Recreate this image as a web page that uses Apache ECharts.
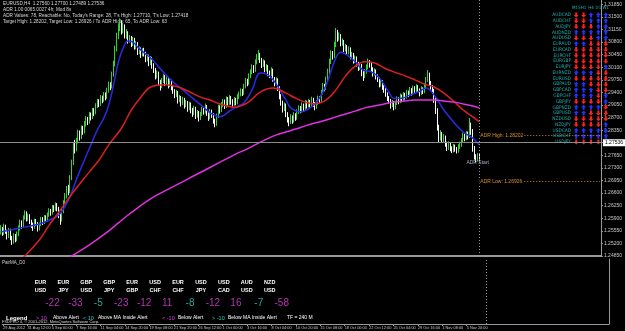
<!DOCTYPE html>
<html>
<head>
<meta charset="utf-8">
<title>EURUSD,H4</title>
<script src="https://cdn.jsdelivr.net/npm/echarts@6/dist/echarts.min.js"></script>
<style>
  html, body { margin: 0; padding: 0; background: #000; }
  #chart { width: 625px; height: 331px; }
</style>
</head>
<body>
<div id="chart"></div>
<script>
// H4 bars, [open, close, low, high]
const bars = [
  [1.2552,1.2560,1.2545,1.2571],[1.2560,1.2548,1.2541,1.2566],[1.2548,1.2566,1.2544,1.2575],[1.2566,1.2552,1.2547,1.2572],[1.2552,1.2540,1.2531,1.2558],[1.2540,1.2557,1.2535,1.2563],
  [1.2557,1.2536,1.2529,1.2561],[1.2536,1.2524,1.2516,1.2541],[1.2524,1.2541,1.2519,1.2548],[1.2541,1.2530,1.2523,1.2546],[1.2530,1.2546,1.2526,1.2553],[1.2546,1.2562,1.2540,1.2570],
  [1.2562,1.2578,1.2556,1.2586],[1.2578,1.2569,1.2561,1.2584],[1.2569,1.2592,1.2565,1.2598],[1.2592,1.2604,1.2586,1.2612],[1.2604,1.2588,1.2581,1.2609],[1.2588,1.2597,1.2583,1.2603],
  [1.2597,1.2580,1.2574,1.2601],[1.2580,1.2571,1.2563,1.2586],[1.2571,1.2566,1.2555,1.2578],[1.2566,1.2583,1.2561,1.2589],[1.2583,1.2575,1.2568,1.2588],[1.2575,1.2561,1.2553,1.2579],
  [1.2561,1.2572,1.2556,1.2578],[1.2572,1.2589,1.2568,1.2594],[1.2589,1.2578,1.2571,1.2593],[1.2578,1.2594,1.2574,1.2599],[1.2594,1.2585,1.2579,1.2598],[1.2585,1.2600,1.2581,1.2606],
  [1.2600,1.2611,1.2594,1.2618],[1.2611,1.2604,1.2597,1.2616],[1.2604,1.2620,1.2600,1.2627],[1.2620,1.2615,1.2607,1.2626],[1.2615,1.2628,1.2611,1.2634],[1.2628,1.2618,1.2609,1.2632],
  [1.2618,1.2598,1.2590,1.2622],[1.2598,1.2586,1.2572,1.2603],[1.2586,1.2610,1.2581,1.2616],[1.2610,1.2634,1.2604,1.2640],[1.2634,1.2652,1.2628,1.2660],[1.2652,1.2671,1.2645,1.2680],
  [1.2671,1.2665,1.2654,1.2683],[1.2665,1.2702,1.2660,1.2710],[1.2702,1.2745,1.2696,1.2753],[1.2745,1.2790,1.2738,1.2802],[1.2790,1.2782,1.2770,1.2808],[1.2782,1.2805,1.2776,1.2814],
  [1.2805,1.2828,1.2798,1.2836],[1.2828,1.2815,1.2806,1.2834],[1.2815,1.2840,1.2810,1.2848],[1.2840,1.2832,1.2822,1.2847],[1.2832,1.2851,1.2826,1.2860],[1.2851,1.2866,1.2845,1.2874],
  [1.2866,1.2858,1.2849,1.2872],[1.2858,1.2879,1.2853,1.2886],[1.2879,1.2871,1.2862,1.2884],[1.2871,1.2890,1.2866,1.2897],[1.2890,1.2884,1.2874,1.2896],[1.2884,1.2902,1.2879,1.2910],
  [1.2902,1.2915,1.2896,1.2922],[1.2915,1.2908,1.2899,1.2921],[1.2908,1.2926,1.2903,1.2933],[1.2926,1.2919,1.2910,1.2931],[1.2919,1.2934,1.2914,1.2941],[1.2934,1.2928,1.2918,1.2940],
  [1.2928,1.2945,1.2922,1.2953],[1.2945,1.2962,1.2939,1.2970],[1.2962,1.2956,1.2946,1.2968],[1.2956,1.2990,1.2951,1.2998],[1.2990,1.3018,1.2984,1.3028],[1.3018,1.3060,1.3012,1.3070],
  [1.3060,1.3095,1.3054,1.3106],[1.3095,1.3118,1.3088,1.3130],[1.3118,1.3132,1.3110,1.3146],[1.3132,1.3110,1.3101,1.3140],[1.3110,1.3124,1.3104,1.3133],[1.3124,1.3098,1.3090,1.3129],
  [1.3098,1.3105,1.3089,1.3116],[1.3105,1.3084,1.3076,1.3110],[1.3084,1.3092,1.3078,1.3100],[1.3092,1.3074,1.3066,1.3097],[1.3074,1.3088,1.3069,1.3094],[1.3088,1.3066,1.3059,1.3092],
  [1.3066,1.3075,1.3060,1.3083],[1.3075,1.3052,1.3044,1.3080],[1.3052,1.3060,1.3046,1.3068],[1.3060,1.3044,1.3036,1.3065],[1.3044,1.3057,1.3040,1.3063],[1.3057,1.3048,1.3040,1.3064],
  [1.3048,1.3031,1.3024,1.3053],[1.3031,1.3040,1.3026,1.3047],[1.3040,1.3022,1.3013,1.3045],[1.3022,1.3035,1.3016,1.3041],[1.3035,1.3016,1.3006,1.3039],[1.3016,1.3002,1.2994,1.3021],
  [1.3002,1.2985,1.2976,1.3008],[1.2985,1.2994,1.2979,1.3001],[1.2994,1.2970,1.2961,1.2998],[1.2970,1.2958,1.2945,1.2975],[1.2958,1.2972,1.2952,1.2980],[1.2972,1.2984,1.2966,1.2992],
  [1.2984,1.2966,1.2958,1.2988],[1.2966,1.2978,1.2961,1.2985],[1.2978,1.2960,1.2951,1.2982],[1.2960,1.2971,1.2955,1.2978],[1.2971,1.2955,1.2946,1.2975],[1.2955,1.2944,1.2936,1.2960],
  [1.2944,1.2932,1.2924,1.2949],[1.2932,1.2940,1.2927,1.2947],[1.2940,1.2918,1.2909,1.2944],[1.2918,1.2926,1.2913,1.2933],[1.2926,1.2910,1.2901,1.2930],[1.2910,1.2921,1.2905,1.2928],
  [1.2921,1.2904,1.2895,1.2925],[1.2904,1.2912,1.2899,1.2919],[1.2912,1.2895,1.2886,1.2916],[1.2895,1.2908,1.2890,1.2914],[1.2908,1.2891,1.2882,1.2912],[1.2891,1.2882,1.2872,1.2897],
  [1.2882,1.2896,1.2877,1.2903],[1.2896,1.2875,1.2866,1.2900],[1.2875,1.2884,1.2870,1.2891],[1.2884,1.2868,1.2859,1.2888],[1.2868,1.2879,1.2863,1.2886],[1.2879,1.2892,1.2874,1.2900],
  [1.2892,1.2886,1.2878,1.2898],[1.2886,1.2901,1.2881,1.2909],[1.2901,1.2883,1.2875,1.2905],[1.2883,1.2870,1.2861,1.2887],[1.2870,1.2887,1.2865,1.2894],[1.2887,1.2878,1.2869,1.2892],
  [1.2878,1.2862,1.2853,1.2882],[1.2862,1.2851,1.2843,1.2867],[1.2851,1.2874,1.2847,1.2881],[1.2874,1.2898,1.2869,1.2906],[1.2898,1.2890,1.2881,1.2904],[1.2890,1.2906,1.2885,1.2913],
  [1.2906,1.2915,1.2899,1.2922],[1.2915,1.2902,1.2894,1.2920],[1.2902,1.2922,1.2897,1.2929],[1.2922,1.2910,1.2902,1.2927],[1.2910,1.2925,1.2905,1.2933],[1.2925,1.2914,1.2906,1.2930],
  [1.2914,1.2908,1.2899,1.2921],[1.2908,1.2920,1.2903,1.2927],[1.2920,1.2912,1.2904,1.2925],[1.2912,1.2928,1.2907,1.2935],[1.2928,1.2935,1.2921,1.2942],[1.2935,1.2944,1.2929,1.2951],
  [1.2944,1.2938,1.2930,1.2950],[1.2938,1.2957,1.2933,1.2964],[1.2957,1.2972,1.2951,1.2980],[1.2972,1.2966,1.2957,1.2978],[1.2966,1.2985,1.2961,1.2993],[1.2985,1.2996,1.2979,1.3004],
  [1.2996,1.3010,1.2990,1.3018],[1.3010,1.3002,1.2994,1.3016],[1.3002,1.3024,1.2997,1.3032],[1.3024,1.3038,1.3018,1.3047],[1.3038,1.3045,1.3030,1.3058],[1.3045,1.3030,1.3022,1.3050],
  [1.3030,1.3016,1.3008,1.3036],[1.3016,1.3025,1.3011,1.3032],[1.3025,1.3004,1.2996,1.3029],[1.3004,1.3012,1.2998,1.3019],[1.3012,1.2994,1.2985,1.3016],[1.2994,1.2990,1.2980,1.3001],
  [1.2990,1.3002,1.2985,1.3010],[1.3002,1.2978,1.2970,1.3006],[1.2978,1.2966,1.2957,1.2983],[1.2966,1.2975,1.2960,1.2982],[1.2975,1.2952,1.2944,1.2979],[1.2952,1.2930,1.2921,1.2957],
  [1.2930,1.2912,1.2903,1.2935],[1.2912,1.2894,1.2884,1.2917],[1.2894,1.2905,1.2888,1.2912],[1.2905,1.2880,1.2871,1.2909],[1.2880,1.2866,1.2856,1.2885],[1.2866,1.2858,1.2846,1.2871],
  [1.2858,1.2872,1.2852,1.2879],[1.2872,1.2861,1.2853,1.2876],[1.2861,1.2878,1.2856,1.2885],[1.2878,1.2869,1.2861,1.2882],[1.2869,1.2886,1.2864,1.2893],[1.2886,1.2897,1.2880,1.2904],
  [1.2897,1.2890,1.2882,1.2902],[1.2890,1.2905,1.2885,1.2912],[1.2905,1.2896,1.2888,1.2909],[1.2896,1.2912,1.2891,1.2919],[1.2912,1.2903,1.2895,1.2917],[1.2903,1.2915,1.2898,1.2922],
  [1.2915,1.2906,1.2898,1.2919],[1.2906,1.2921,1.2901,1.2928],[1.2921,1.2908,1.2900,1.2925],[1.2908,1.2899,1.2890,1.2913],[1.2899,1.2911,1.2894,1.2918],[1.2911,1.2924,1.2905,1.2931],
  [1.2924,1.2918,1.2910,1.2930],[1.2918,1.2940,1.2913,1.2947],[1.2940,1.2958,1.2934,1.2966],[1.2958,1.2952,1.2943,1.2964],[1.2952,1.2976,1.2947,1.2984],[1.2976,1.2998,1.2970,1.3006],
  [1.2998,1.3025,1.2992,1.3034],[1.3025,1.3048,1.3019,1.3057],[1.3048,1.3040,1.3031,1.3055],[1.3040,1.3072,1.3035,1.3081],[1.3072,1.3105,1.3066,1.3119],[1.3105,1.3090,1.3081,1.3114],
  [1.3090,1.3098,1.3084,1.3107],[1.3098,1.3076,1.3068,1.3102],[1.3076,1.3082,1.3070,1.3090],[1.3082,1.3060,1.3052,1.3086],[1.3060,1.3068,1.3054,1.3075],[1.3068,1.3052,1.3044,1.3072],
  [1.3052,1.3061,1.3046,1.3068],[1.3061,1.3040,1.3032,1.3065],[1.3040,1.3046,1.3034,1.3053],[1.3046,1.3028,1.3020,1.3050],[1.3028,1.3036,1.3022,1.3043],[1.3036,1.3020,1.3012,1.3040],
  [1.3020,1.3008,1.3000,1.3025],[1.3008,1.3015,1.3002,1.3022],[1.3015,1.2994,1.2985,1.3019],[1.2994,1.2986,1.2972,1.2999],[1.2986,1.2998,1.2980,1.3005],[1.2998,1.3010,1.2992,1.3018],
  [1.3010,1.3024,1.3004,1.3034],[1.3024,1.3018,1.3009,1.3030],[1.3018,1.3006,1.2998,1.3022],[1.3006,1.2992,1.2984,1.3010],[1.2992,1.3000,1.2987,1.3007],[1.3000,1.2984,1.2976,1.3004],
  [1.2984,1.2978,1.2969,1.2990],[1.2978,1.2962,1.2954,1.2982],[1.2962,1.2970,1.2956,1.2977],[1.2970,1.2955,1.2947,1.2974],[1.2955,1.2948,1.2939,1.2960],[1.2948,1.2936,1.2928,1.2952],
  [1.2936,1.2925,1.2916,1.2940],[1.2925,1.2918,1.2909,1.2930],[1.2918,1.2904,1.2895,1.2922],[1.2904,1.2912,1.2899,1.2919],[1.2912,1.2898,1.2890,1.2916],[1.2898,1.2910,1.2893,1.2917],
  [1.2910,1.2922,1.2905,1.2929],[1.2922,1.2915,1.2907,1.2927],[1.2915,1.2930,1.2910,1.2937],[1.2930,1.2921,1.2913,1.2934],[1.2921,1.2934,1.2916,1.2941],[1.2934,1.2928,1.2920,1.2939],
  [1.2928,1.2940,1.2923,1.2947],[1.2940,1.2935,1.2927,1.2945],[1.2935,1.2948,1.2930,1.2955],[1.2948,1.2939,1.2931,1.2952],[1.2939,1.2952,1.2934,1.2959],[1.2952,1.2944,1.2936,1.2957],
  [1.2944,1.2956,1.2939,1.2963],[1.2956,1.2947,1.2939,1.2960],[1.2947,1.2938,1.2929,1.2951],[1.2938,1.2950,1.2933,1.2957],[1.2950,1.2943,1.2935,1.2954],[1.2943,1.2958,1.2938,1.2965],
  [1.2958,1.2975,1.2952,1.2983],[1.2975,1.2990,1.2969,1.3002],[1.2990,1.2968,1.2960,1.2995],[1.2968,1.2955,1.2946,1.2972],[1.2955,1.2945,1.2936,1.2960],[1.2945,1.2920,1.2911,1.2950],
  [1.2920,1.2890,1.2880,1.2926],[1.2890,1.2845,1.2834,1.2896],[1.2845,1.2812,1.2800,1.2850],[1.2812,1.2826,1.2806,1.2835],[1.2826,1.2808,1.2799,1.2830],[1.2808,1.2816,1.2802,1.2824],
  [1.2816,1.2798,1.2789,1.2820],[1.2798,1.2786,1.2777,1.2803],[1.2786,1.2797,1.2780,1.2804],[1.2797,1.2784,1.2776,1.2801],[1.2784,1.2778,1.2771,1.2790],[1.2778,1.2790,1.2773,1.2797],
  [1.2790,1.2782,1.2775,1.2795],[1.2782,1.2776,1.2770,1.2788],[1.2776,1.2789,1.2772,1.2796],[1.2789,1.2795,1.2783,1.2803],[1.2795,1.2806,1.2789,1.2813],[1.2806,1.2820,1.2800,1.2828],
  [1.2820,1.2812,1.2804,1.2825],[1.2812,1.2826,1.2807,1.2833],[1.2826,1.2818,1.2809,1.2831],[1.2818,1.2848,1.2813,1.2869],[1.2848,1.2832,1.2822,1.2856],[1.2832,1.2786,1.2775,1.2838],
  [1.2786,1.2762,1.2753,1.2791],[1.2762,1.2752,1.2745,1.2768],[1.2752,1.2766,1.2748,1.2771],[1.2766,1.27536,1.2749,1.2770]
];

// moving averages, [bar index, price]
const maFast = [
  [0,1.2552],[12,1.2563],[24,1.2574],[30,1.2585],[36,1.2599],[42,1.2641],[48,1.2710],[55,1.2785],[60,1.2836],
  [64,1.2869],[67,1.2905],[70,1.2961],[73,1.3025],[76,1.3064],[79,1.3083],[82,1.3080],[85,1.3066],[89,1.3050],
  [93,1.3036],[97,1.3016],[102,1.2991],[107,1.2969],[113,1.2947],[119,1.2924],[125,1.2902],[131,1.2880],[136,1.2872],
  [142,1.2888],[147,1.2902],[151,1.2911],[156,1.2947],[161,1.2994],[165,1.2991],[169,1.2975],[174,1.2941],[177,1.2919],
  [180,1.2897],[186,1.2886],[192,1.2897],[197,1.2919],[202,1.2961],[207,1.3025],[211,1.3052],[215,1.3044],[220,1.3025],
  [225,1.3002],[230,1.2997],[235,1.2980],[240,1.2947],[244,1.2924],[249,1.2924],[254,1.2933],[259,1.2941],[264,1.2952],
  [269,1.2933],[275,1.2891],[281,1.2858],[287,1.2830],[293,1.2813],[297,1.2794]
];
const maMid = [
  [10,1.2468],[15,1.2485],[24,1.2530],[30,1.2571],[36,1.2607],[45,1.2663],[55,1.2719],[61,1.2752],[67,1.2794],
  [75,1.2841],[81,1.2891],[87,1.2927],[93,1.2955],[102,1.2961],[110,1.2955],[116,1.2944],[124,1.2927],[130,1.2919],
  [136,1.2908],[145,1.2899],[153,1.2911],[161,1.2941],[169,1.2952],[177,1.2938],[183,1.2924],[189,1.2913],[195,1.2908],
  [202,1.2919],[208,1.2947],[214,1.2986],[220,1.3013],[226,1.3025],[232,1.3022],[238,1.3008],[244,1.2997],[251,1.2986],
  [257,1.2975],[263,1.2963],[269,1.2955],[275,1.2938],[281,1.2916],[287,1.2891],[293,1.2872],[297,1.2858]
];
const maSlow = [
  [40,1.2470],[44,1.2485],[48,1.2496],[55,1.2516],[61,1.2535],[67,1.2555],[73,1.2577],[79,1.2599],[85,1.2619],
  [91,1.2638],[97,1.2655],[104,1.2671],[110,1.2685],[116,1.2699],[122,1.2713],[128,1.2727],[134,1.2741],[140,1.2755],
  [146,1.2769],[153,1.2783],[159,1.2797],[165,1.2810],[171,1.2822],[177,1.2830],[183,1.2838],[189,1.2847],[195,1.2855],
  [202,1.2863],[208,1.2872],[214,1.2880],[220,1.2888],[226,1.2897],[232,1.2902],[238,1.2908],[244,1.2913],[251,1.2916],
  [257,1.2919],[263,1.2919],[269,1.2919],[275,1.2916],[281,1.2913],[287,1.2908],[293,1.2902],[297,1.2897]
];

const tickLabels = ['29 Aug 2012','31 Aug 12:00','5 Sep 00:00','7 Sep 16:00','11 Sep 04:00','14 Sep 20:00','19 Sep 08:00',
  '21 Sep 20:00','26 Sep 12:00','1 Oct 00:00','3 Oct 16:00','8 Oct 04:00','10 Oct 20:00','15 Oct 08:00','18 Oct 00:00',
  '22 Oct 12:00','25 Oct 04:00','29 Oct 16:00','1 Nov 08:00','5 Nov 20:00'];

const currentPrice = 1.27536;
const adrHigh = 1.28202;
const adrLow = 1.26926;
const adrStartBar = 297;

// trend panel (U = up, D = down)
const tfNames = ['M15', 'H1', 'H4', 'D1', 'W1'];
const trendPairs = ['AUDCAD','AUDCHF','AUDJPY','AUDNZD','AUDUSD','EURAUD','EURCAD','EURCHF','EURGBP','EURJPY','EURNZD','EURUSD',
  'GBPAUD','GBPCAD','GBPCHF','GBPJPY','GBPNZD','GBPUSD','NZDUSD','NZDJPY','USDCAD','USDCHF','USDJPY'];
const trendDirs = ['DDUUU','DDUUU','DDDUU','UUUUU','DDDUU','UUDDD','DDDDD','DDDDD','DDDDD','DDDDU','UUUDD','DDDDD',
  'UUDDD','UUUDD','UUUDU','DDDDU','UUUUD','UUDDD','DDDDD','DDDDU','UUUUU','UUUUU','DDDDU'];

// PairMA_D0 sub window
const pairBase = ['EUR','EUR','GBP','GBP','EUR','USD','EUR','USD','USD','AUD','NZD'];
const pairQuote = ['USD','JPY','USD','JPY','GBP','CHF','CHF','JPY','CAD','USD','USD'];
const pairScores = [-22, -33, -5, -23, -12, 11, -8, -12, 16, -7, -58];

const infoLines = [
  'EURUSD,H4  1.27560 1.27700 1.27489 1.27536',
  'ADR 1.00 0065.0027 4h; Mod 8s',
  "ADR Values: 78, Reachable: No, Today's Range: 28, T's High: 1.27710, T's Low: 1.27418",
  'Target High: 1.28202, Target Low: 1.26926 / To ADR High: 65, To ADR Low: 63'
];

const slotCount = 373;
const slots = Array.from({ length: slotCount }, (_, i) => String(i));
const FONT = 'Liberation Sans';
const MAGENTA = '#e040e0';
const CYAN = '#33ccc0';
const TEAL = '#1fb5b5';
const ARROW = 'path://M5,0 L10,5 L7,5 L7,10 L3,10 L3,5 L0,5 Z';

const upCells = [];
const downCells = [];
trendDirs.forEach((row, r) => {
  row.split('').forEach((d, c) => {
    (d === 'U' ? upCells : downCells).push([c, r]);
  });
});

const showTick = (idx) => idx % 15 === 0 && idx / 15 < tickLabels.length;

const chart = echarts.init(document.getElementById('chart'));
chart.setOption({
  animation: false,
  backgroundColor: '#000',
  textStyle: { fontFamily: FONT },
  grid: [
    { left: 0, right: 16, top: 0, height: 256 },
    { left: 0, right: 16, top: 259, height: 65 },
    { left: 572.5, right: 15.5, top: 12.1, height: 132.7 },
    { left: 29, width: 252.2, top: 295, height: 16 }
  ],
  xAxis: [
    { type: 'category', gridIndex: 0, data: slots,
      axisLine: { lineStyle: { color: '#9a9a9a', width: 2 } },
      axisTick: { show: false }, axisLabel: { show: false } },
    { type: 'category', gridIndex: 1, data: slots,
      axisLine: { lineStyle: { color: '#9a9a9a', width: 1 } },
      axisTick: { show: true, alignWithLabel: true, interval: showTick, length: 2, lineStyle: { color: '#9a9a9a' } },
      axisLabel: { interval: showTick, align: 'left', fontSize: 3.9, color: '#c8c8c8', margin: 2,
        formatter: (v, idx) => tickLabels[idx / 15] || '' } },
    { type: 'category', gridIndex: 2, data: tfNames, position: 'top',
      axisLine: { show: false }, axisTick: { show: false },
      axisLabel: { interval: 0, fontSize: 4.5, color: TEAL, margin: 1.5, fontFamily: 'DejaVu Sans Condensed' } },
    { type: 'category', gridIndex: 3, data: pairBase.map((b, k) => b + '\n' + pairQuote[k]), position: 'top',
      axisLine: { show: false }, axisTick: { show: false },
      axisLabel: { interval: 0, fontSize: 5.5, fontWeight: 'bold', color: '#ffffff', lineHeight: 8, margin: 1 } }
  ],
  yAxis: [
    { type: 'value', gridIndex: 0, position: 'right', min: 1.2485, max: 1.3197, interval: 0.0035,
      splitLine: { show: false },
      axisLine: { show: true, lineStyle: { color: '#9a9a9a' } },
      axisTick: { show: true, length: 2, lineStyle: { color: '#9a9a9a' } },
      axisLabel: { fontSize: 5, color: '#c8c8c8', margin: 3, showMaxLabel: false,
        formatter: (v) => v.toFixed(5) } },
    { type: 'value', gridIndex: 1, position: 'right', min: 0, max: 1,
      splitLine: { show: false }, axisLine: { show: true, lineStyle: { color: '#9a9a9a' } },
      axisTick: { show: false }, axisLabel: { show: false } },
    { type: 'category', gridIndex: 2, data: trendPairs, inverse: true,
      axisLine: { show: false }, axisTick: { show: false },
      axisLabel: { interval: 0, fontSize: 4.8, color: TEAL, margin: 1.5, fontFamily: 'DejaVu Sans Condensed' } },
    { type: 'value', gridIndex: 3, min: 0, max: 1, show: false }
  ],
  series: [
    {
      name: 'EURUSD,H4', type: 'candlestick', xAxisIndex: 0, yAxisIndex: 0, data: bars, barWidth: 1,
      itemStyle: { color: '#2fd42f', color0: '#ffffff', borderColor: '#2fd42f', borderColor0: '#ffffff', borderWidth: 1 },
      markLine: {
        silent: true, symbol: ['none', 'none'], animation: false,
        data: [
          { yAxis: currentPrice, lineStyle: { color: '#8c8c8c', type: 'solid', width: 1 },
            label: { show: true, position: 'end', distance: 2, formatter: currentPrice.toFixed(5),
              backgroundColor: '#ffffff', color: '#000', fontSize: 5, padding: [1, 2] } },
          { xAxis: adrStartBar, lineStyle: { color: '#9a9a9a', type: [1, 2], width: 1 }, label: { show: false } },
          [ { coord: [adrStartBar, adrHigh], lineStyle: { color: '#c8862a', type: [1, 2], width: 1 }, label: { show: false } },
            { coord: [slotCount - 1, adrHigh] } ],
          [ { coord: [adrStartBar, adrLow], lineStyle: { color: '#c8862a', type: [1, 2], width: 1 }, label: { show: false } },
            { coord: [slotCount - 1, adrLow] } ]
        ]
      },
      markPoint: {
        silent: true, symbol: 'circle', symbolSize: 0, animation: false,
        data: [
          { coord: [adrStartBar, adrHigh], label: { show: true, position: 'right', distance: 0,
              formatter: 'ADR High: ' + adrHigh.toFixed(5), color: '#d8902c', fontSize: 5, backgroundColor: '#000', padding: [0, 1] } },
          { coord: [adrStartBar, adrLow], label: { show: true, position: 'right', distance: 0,
              formatter: 'ADR Low: ' + adrLow.toFixed(5), color: '#d8902c', fontSize: 5, backgroundColor: '#000', padding: [0, 1] } },
          { coord: [adrStartBar - 1, 1.2744], label: { show: true, position: 'inside',
              formatter: 'ADR Start', color: '#a8b0c8', fontSize: 5 } }
        ]
      }
    },
    { name: 'MA fast', type: 'line', xAxisIndex: 0, yAxisIndex: 0, data: maFast, showSymbol: false, smooth: 0.4,
      lineStyle: { color: '#2a2ae6', width: 1.5 } },
    { name: 'MA mid', type: 'line', xAxisIndex: 0, yAxisIndex: 0, data: maMid, showSymbol: false, smooth: 0.4,
      lineStyle: { color: '#dc2020', width: 1.5 } },
    { name: 'MA slow', type: 'line', xAxisIndex: 0, yAxisIndex: 0, data: maSlow, showSymbol: false, smooth: 0.4,
      lineStyle: { color: '#e030e0', width: 1.5 } },
    { name: 'PairMA_D0', type: 'line', xAxisIndex: 1, yAxisIndex: 1, data: [],
      markLine: { silent: true, symbol: ['none', 'none'], animation: false,
        data: [ { xAxis: adrStartBar, lineStyle: { color: '#9a9a9a', type: [1, 2], width: 1 }, label: { show: false } } ] } },
    { name: 'up', type: 'scatter', xAxisIndex: 2, yAxisIndex: 2, data: upCells,
      symbol: ARROW, symbolSize: [5, 5], itemStyle: { color: '#2433ff', opacity: 1 } },
    { name: 'down', type: 'scatter', xAxisIndex: 2, yAxisIndex: 2, data: downCells,
      symbol: ARROW, symbolRotate: 180, symbolSize: [5, 5], itemStyle: { color: '#ff2020', opacity: 1 } },
    { name: 'scores', type: 'scatter', xAxisIndex: 3, yAxisIndex: 3, symbolSize: 0,
      data: pairScores.map((s, k) => ({ value: [k, 0.5], label: { color: Math.abs(s) >= 10 ? MAGENTA : CYAN } })),
      label: { show: true, position: 'inside', offset: [12, 0], fontSize: 10,
        formatter: (p) => String(pairScores[p.dataIndex]) } }
  ],
  graphic: [
    ...infoLines.map((t, k) => ({ type: 'text', left: 3, top: 1 + k * 6.2,
      style: { text: t, fill: '#d8d8d8', font: '4.7px ' + FONT } })),
    { type: 'text', left: 2, top: 260, style: { text: 'PairMA_D0', fill: '#d0d0d0', font: '4.5px ' + FONT } },
    { type: 'text', left: 6, top: 315, style: { text: 'Legend', fill: '#ffffff', font: 'bold 6px ' + FONT } },
    { type: 'text', left: 36, top: 315, style: { text: '> 10', fill: MAGENTA, font: '5.5px ' + FONT } },
    { type: 'text', left: 53, top: 315, style: { text: 'Above Alert', fill: '#ffffff', font: '5px ' + FONT } },
    { type: 'text', left: 83, top: 315, style: { text: '< 10', fill: CYAN, font: '5.5px ' + FONT } },
    { type: 'text', left: 98, top: 315, style: { text: 'Above MA Inside Alert', fill: '#ffffff', font: '5px ' + FONT } },
    { type: 'text', left: 162, top: 315, style: { text: '< -10', fill: MAGENTA, font: '5.5px ' + FONT } },
    { type: 'text', left: 178, top: 315, style: { text: 'Below Alert', fill: '#ffffff', font: '5px ' + FONT } },
    { type: 'text', left: 212, top: 315, style: { text: '> -10', fill: CYAN, font: '5.5px ' + FONT } },
    { type: 'text', left: 228, top: 315, style: { text: 'Below MA Inside Alert', fill: '#ffffff', font: '5px ' + FONT } },
    { type: 'text', left: 287, top: 315, style: { text: 'TF = 240 M', fill: '#ffffff', font: '5px ' + FONT } },
    { type: 'text', left: 2, top: 319.5, style: { text: 'FXDPRO 4, © 2001-2012, MetaQuotes Software Corp.', fill: '#d8d8d8', font: '4px ' + FONT } }
  ]
});
</script>
</body>
</html>
